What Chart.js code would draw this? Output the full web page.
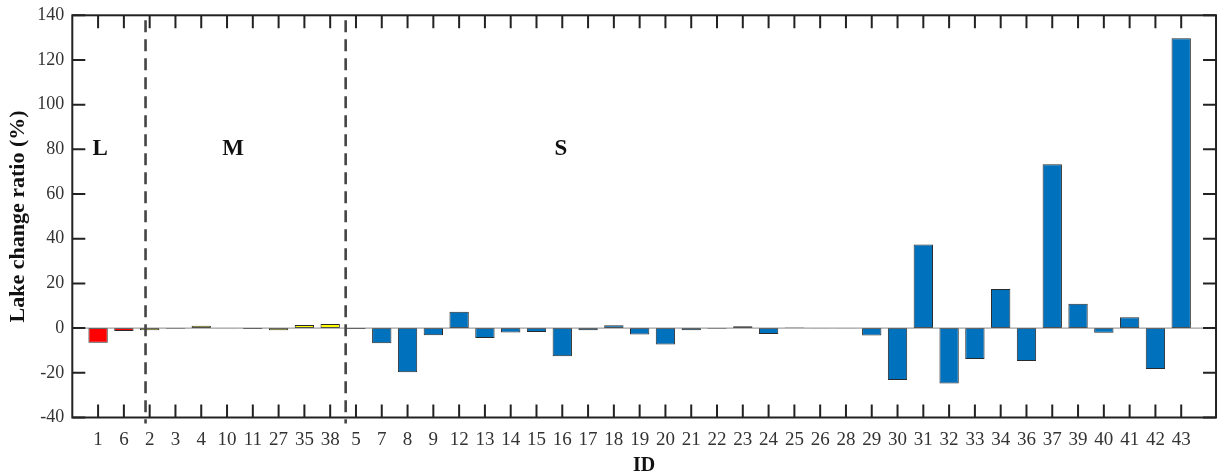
<!DOCTYPE html>
<html>
<head>
<meta charset="utf-8">
<script src="https://cdn.jsdelivr.net/npm/chart.js@4.4.1/dist/chart.umd.min.js"></script>
<style>
  html, body { margin: 0; padding: 0; background: #fff; }
  #wrap { width: 1218px; height: 476px; }
</style>
</head>
<body>
<div id="wrap"><canvas id="chart" width="1218" height="476"></canvas></div>
<script>
// lake IDs in plotted order, grouped by size class
const ids = ['1', '6', '2', '3', '4', '10', '11', '27', '35', '38', '5', '7', '8', '9', '12', '13', '14', '15', '16', '17', '18', '19', '20', '21', '22', '23', '24', '25', '26', '28', '29', '30', '31', '32', '33', '34', '36', '37', '39', '40', '41', '42', '43']
const groups = ['L', 'L', 'M', 'M', 'M', 'M', 'M', 'M', 'M', 'M', 'S', 'S', 'S', 'S', 'S', 'S', 'S', 'S', 'S', 'S', 'S', 'S', 'S', 'S', 'S', 'S', 'S', 'S', 'S', 'S', 'S', 'S', 'S', 'S', 'S', 'S', 'S', 'S', 'S', 'S', 'S', 'S', 'S']
const changeRatio = [-6.5, -1.3, -1.0, -0.3, 1.1, -0.1, -0.4, -1.0, 1.4, 1.9, -0.4, -6.8, -19.7, -3.2, 7.3, -4.4, -2.0, -1.7, -12.6, -1.0, 1.3, -2.9, -7.3, -1.0, -0.3, 0.8, -2.6, 0.3, -0.1, -0.1, -3.3, -23.2, 37.4, -24.8, -13.8, 17.5, -14.7, 73.3, 10.9, -2.1, 4.9, -18.3, 129.7]
const yTicks = [-40, -20, 0, 20, 40, 60, 80, 100, 120, 140]

const groupColors = { L: '#ff0000', M: '#ffff00', S: '#0072bd' }
const groupNames = ['L', 'M', 'S']
const groupLabelX = [1.08, 6.24, 18.95]
const groupLabelY = 80
const dividers = [2.84, 10.6]

const serif = "'Liberation Serif', 'Times New Roman', serif"

const framePlugin = {
    id: 'frame',
    afterDatasetsDraw(chart) {
        const { ctx, chartArea: a, scales: { x, y } } = chart
        ctx.save()
        // baseline
        ctx.strokeStyle = '#8a8a8a'
        ctx.lineWidth = 1
        const y0 = y.getPixelForValue(0)
        ctx.beginPath(); ctx.moveTo(a.left, y0); ctx.lineTo(a.right, y0); ctx.stroke()

        // inward tick marks
        ctx.strokeStyle = '#222'
        ctx.lineWidth = 2
        const tl = 13
        ctx.beginPath()
        ids.forEach((_, i) => {
            const px = x.getPixelForValue(i + 1)
            ctx.moveTo(px, a.bottom); ctx.lineTo(px, a.bottom - tl)
            ctx.moveTo(px, a.top); ctx.lineTo(px, a.top + tl)
        })
        yTicks.forEach(v => {
            const py = y.getPixelForValue(v)
            ctx.moveTo(a.left, py); ctx.lineTo(a.left + tl, py)
            ctx.moveTo(a.right, py); ctx.lineTo(a.right - tl, py)
        })
        ctx.stroke()

        // dashed group dividers
        ctx.strokeStyle = '#444'
        ctx.lineWidth = 2.6
        ctx.setLineDash([12, 7])
        dividers.forEach(v => {
            const px = x.getPixelForValue(v)
            ctx.beginPath(); ctx.moveTo(px, a.top + 5); ctx.lineTo(px, a.bottom + 6); ctx.stroke()
        })
        ctx.setLineDash([])

        // group names
        ctx.fillStyle = '#111'
        ctx.font = `bold 23px ${serif}`
        ctx.textAlign = 'center'
        ctx.textBaseline = 'middle'
        groupNames.forEach((t, i) => {
            ctx.fillText(t, x.getPixelForValue(groupLabelX[i]), y.getPixelForValue(groupLabelY))
        })

        // box
        ctx.strokeStyle = '#222'
        ctx.lineWidth = 2
        ctx.strokeRect(a.left, a.top, a.right - a.left, a.bottom - a.top)
        ctx.restore()
    }
}

const ctx = document.getElementById('chart').getContext('2d')
new Chart(ctx, {
    type: 'bar',
    data: {
        datasets: [{
            data: changeRatio.map((v, i) => ({ x: i + 1, y: v })),
            backgroundColor: groups.map(g => groupColors[g]),
            borderColor: '#2a2a2a',
            borderWidth: 1,
            borderSkipped: false,
            barPercentage: 0.75,
            categoryPercentage: 1
        }]
    },
    options: {
        responsive: false,
        animation: false,
        layout: { padding: { left: 0, right: 0.5, top: 15.3, bottom: 0 } },
        plugins: { legend: { display: false }, tooltip: { enabled: false } },
        scales: {
            x: {
                type: 'linear',
                offset: false,
                min: 0,
                max: 44.35,
                grid: { display: false, drawTicks: false, offset: false },
                border: { display: false },
                afterFit: s => { s.height = 58.5 },
                ticks: {
                    stepSize: 1,
                    includeBounds: false,
                    autoSkip: false,
                    maxRotation: 0,
                    padding: 11,
                    color: '#333',
                    font: { family: serif, size: 19 },
                    callback: v => ids[v - 1] || ''
                },
                title: {
                    display: true,
                    text: 'ID',
                    color: '#111',
                    font: { family: serif, size: 20, weight: 'bold', lineHeight: 1 },
                    padding: 0
                }
            },
            y: {
                min: -40,
                max: 140,
                grid: { display: false, drawTicks: false },
                border: { display: false },
                afterFit: s => { s.width = 72.3; s.paddingTop = 0; s.paddingBottom = 0 },
                ticks: {
                    stepSize: 20,
                    padding: 8,
                    color: '#333',
                    font: { family: serif, size: 18 }
                },
                title: {
                    display: true,
                    text: 'Lake change ratio (%)',
                    color: '#111',
                    font: { family: serif, size: 22, weight: 'bold', lineHeight: 1.2 },
                    padding: { top: 5, bottom: 0 }
                }
            }
        }
    },
    plugins: [framePlugin]
})
</script>
</body>
</html>
